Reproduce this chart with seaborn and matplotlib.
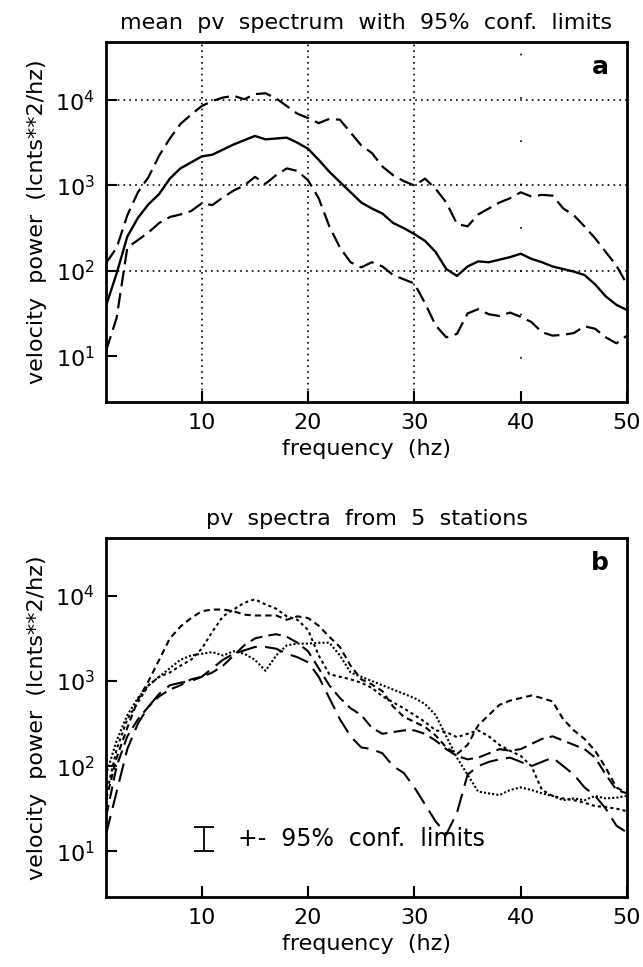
import numpy as np
import pandas as pd
import seaborn as sns
import matplotlib.pyplot as plt
from matplotlib.ticker import FixedLocator, LogFormatterMathtext, NullLocator

# frequency axis (hz)
freq = list(range(1, 51))

# panel a: log10 of velocity power
mean_log = [1.59, 1.97, 2.40, 2.62, 2.78, 2.90, 3.08, 3.20, 3.27, 3.34,
            3.36, 3.42, 3.48, 3.53, 3.58, 3.54, 3.55, 3.56, 3.50, 3.43,
            3.30, 3.16, 3.04, 2.92, 2.80, 2.73, 2.67, 2.56, 2.50, 2.43,
            2.35, 2.22, 2.02, 1.94, 2.05, 2.11, 2.10, 2.13, 2.16, 2.20,
            2.14, 2.10, 2.05, 2.02, 1.99, 1.95, 1.84, 1.70, 1.60, 1.54]
upper_log = [2.09, 2.27, 2.65, 2.92, 3.10, 3.35, 3.55, 3.72, 3.83, 3.93,
             3.99, 4.03, 4.05, 4.01, 4.07, 4.08, 4.02, 3.93, 3.84, 3.79,
             3.73, 3.78, 3.77, 3.62, 3.47, 3.38, 3.22, 3.12, 3.05, 3.00,
             3.08, 2.96, 2.80, 2.55, 2.52, 2.66, 2.73, 2.80, 2.85, 2.92,
             2.87, 2.89, 2.88, 2.73, 2.65, 2.52, 2.38, 2.22, 2.06, 1.84]
lower_log = [1.06, 1.45, 2.27, 2.36, 2.45, 2.56, 2.63, 2.66, 2.70, 2.79,
             2.77, 2.86, 2.94, 3.00, 3.10, 3.02, 3.12, 3.20, 3.17, 3.06,
             2.85, 2.52, 2.27, 2.10, 2.04, 2.10, 2.05, 1.95, 1.90, 1.85,
             1.62, 1.36, 1.22, 1.26, 1.50, 1.55, 1.49, 1.47, 1.51, 1.46,
             1.40, 1.28, 1.24, 1.25, 1.27, 1.35, 1.32, 1.22, 1.15, 1.24]

# panel b: five stations, log10 of velocity power
sta1_log = [1.60, 2.10, 2.45, 2.78, 3.00, 3.25, 3.50, 3.64, 3.74, 3.82,
            3.84, 3.84, 3.82, 3.78, 3.77, 3.77, 3.77, 3.72, 3.76, 3.74,
            3.65, 3.52, 3.40, 3.18, 3.02, 2.96, 2.88, 2.70, 2.58, 2.52,
            2.46, 2.36, 2.22, 2.14, 2.25, 2.48, 2.60, 2.72, 2.77, 2.80,
            2.83, 2.80, 2.76, 2.55, 2.42, 2.32, 2.18, 1.98, 1.75, 1.68]
sta2_log = [1.90, 2.30, 2.60, 2.80, 2.95, 3.05, 3.15, 3.25, 3.30, 3.32,
            3.34, 3.30, 3.35, 3.32, 3.25, 3.12, 3.30, 3.42, 3.44, 3.44,
            3.45, 3.45, 3.30, 3.10, 3.05, 3.00, 2.95, 2.90, 2.85, 2.80,
            2.73, 2.60, 2.35, 2.10, 1.90, 1.70, 1.68, 1.66, 1.72, 1.75,
            1.72, 1.68, 1.65, 1.60, 1.62, 1.60, 1.65, 1.62, 1.63, 1.65]
sta3_log = [1.65, 2.20, 2.55, 2.75, 2.95, 3.05, 3.10, 3.18, 3.25, 3.38,
            3.58, 3.76, 3.84, 3.92, 3.96, 3.90, 3.85, 3.76, 3.72, 3.60,
            3.30, 3.08, 3.05, 3.02, 2.98, 2.92, 2.82, 2.75, 2.68, 2.60,
            2.52, 2.42, 2.40, 2.34, 2.38, 2.42, 2.35, 2.25, 2.18, 2.12,
            2.00, 1.72, 1.65, 1.62, 1.60, 1.57, 1.53, 1.52, 1.50, 1.47]
sta4_log = [1.40, 2.00, 2.35, 2.55, 2.70, 2.82, 2.90, 2.95, 3.02, 3.05,
            3.10, 3.18, 3.30, 3.42, 3.50, 3.53, 3.55, 3.52, 3.45, 3.35,
            3.15, 2.95, 2.80, 2.68, 2.60, 2.45, 2.38, 2.40, 2.42, 2.42,
            2.38, 2.30, 2.20, 2.12, 2.08, 2.10, 2.15, 2.20, 2.18, 2.20,
            2.26, 2.32, 2.35, 2.30, 2.25, 2.20, 2.10, 1.90, 1.72, 1.68]
sta5_log = [1.20, 1.70, 2.20, 2.50, 2.70, 2.85, 2.95, 2.98, 3.00, 3.05,
            3.15, 3.25, 3.32, 3.36, 3.40, 3.40, 3.38, 3.32, 3.28, 3.22,
            3.05, 2.80, 2.55, 2.35, 2.22, 2.20, 2.15, 2.00, 1.92, 1.75,
            1.55, 1.35, 1.20, 1.45, 1.90, 2.00, 2.05, 2.08, 2.10, 2.05,
            2.00, 2.05, 2.10, 2.00, 1.90, 1.75, 1.65, 1.50, 1.30, 1.22]

y_ticks = [10, 100, 1000, 10000]
x_ticks = [10, 20, 30, 40, 50]

sns.set_style("ticks")
plt.rcParams['font.family'] = ['DejaVu Sans']
plt.rcParams['mathtext.default'] = 'regular'
plt.rcParams['text.color'] = 'black'
plt.rcParams['axes.labelcolor'] = 'black'
plt.rcParams['xtick.color'] = 'black'
plt.rcParams['ytick.color'] = 'black'

fig = plt.figure(figsize=(6.43, 9.67), dpi=100)
ax_a = fig.add_axes([0.1649, 0.5843, 0.8103, 0.3723])
ax_b = fig.add_axes([0.1649, 0.0724, 0.8103, 0.3713])

df_a = pd.DataFrame({"freq": freq,
                     "mean": 10 ** np.array(mean_log),
                     "upper": 10 ** np.array(upper_log),
                     "lower": 10 ** np.array(lower_log)})

# grid of panel a (broken dotted lines)
for gx in [10, 20, 30]:
    ax_a.axvline(gx, color="black", lw=1.2, ls=(0, (1, 2.5)), zorder=0)
ax_a.axvline(40, color="black", lw=1.2, ls=(0, (1, 25)), zorder=0)
for gy in [100, 1000, 10000]:
    ax_a.axhline(gy, color="black", lw=1.2, ls=(0, (1, 2.5)), zorder=0)

sns.lineplot(data=df_a, x="freq", y="mean", ax=ax_a, color="black", lw=1.7)
sns.lineplot(data=df_a, x="freq", y="upper", ax=ax_a, color="black", lw=1.6,
             linestyle=(0, (7, 3)))
sns.lineplot(data=df_a, x="freq", y="lower", ax=ax_a, color="black", lw=1.6,
             linestyle=(0, (7, 3)))

df_b = pd.DataFrame({"freq": freq,
                     "s1": 10 ** np.array(sta1_log),
                     "s2": 10 ** np.array(sta2_log),
                     "s3": 10 ** np.array(sta3_log),
                     "s4": 10 ** np.array(sta4_log),
                     "s5": 10 ** np.array(sta5_log)})
styles_b = {"s1": (0, (3, 2)), "s2": (0, (1, 1)), "s3": (0, (1.5, 1.5)),
            "s4": (0, (6, 3)), "s5": (0, (9, 4))}
for col, ls in styles_b.items():
    sns.lineplot(data=df_b, x="freq", y=col, ax=ax_b, color="black", lw=1.5,
                 linestyle=ls)

# confidence-limit symbol
ax_b.errorbar([10.2], [16.0], yerr=[[6.0], [3.5]], fmt="none", ecolor="black",
              elinewidth=1.3, capsize=7, capthick=1.3)
ax_b.text(13.4, 14.0, "+-  95%  conf.  limits", fontsize=17, va="center",
          ha="left")

titles = ["mean  pv  spectrum  with  95%  conf.  limits", "pv  spectra  from  5  stations"]
labels = ["a", "b"]
for ax, title, lab in zip([ax_a, ax_b], titles, labels):
    ax.set_yscale("log")
    ax.set_xlim(1, 50)
    ax.set_ylim(2.9, 4.8e4)
    ax.xaxis.set_major_locator(FixedLocator(x_ticks))
    ax.yaxis.set_major_locator(FixedLocator(y_ticks))
    ax.yaxis.set_major_formatter(LogFormatterMathtext())
    ax.yaxis.set_minor_locator(NullLocator())
    ax.xaxis.set_minor_locator(NullLocator())
    ax.tick_params(direction="in", length=8, width=1.5, labelsize=16,
                   top=False, right=False, pad=8)
    for sp in ax.spines.values():
        sp.set_linewidth(2)
        sp.set_color("black")
    ax.set_title(title, fontsize=16, pad=9)
    ax.set_xlabel("frequency  (hz)", fontsize=16, labelpad=4)
    ax.set_ylabel("velocity  power  (lcnts**2/hz)", fontsize=16, labelpad=6)
    ax.text(0.965, 0.965, lab, transform=ax.transAxes, fontsize=18,
            fontweight="bold", ha="right", va="top")

fig.savefig("out.png", dpi=100)
